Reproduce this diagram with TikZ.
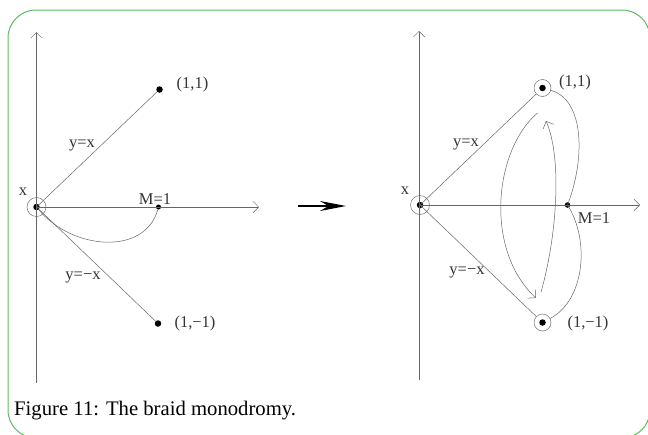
\documentclass[tikz,border=0pt]{standalone}
\usepackage{fontspec}
\setmainfont{Liberation Serif}
\usetikzlibrary{arrows.meta, positioning}
\definecolor{framegreen}{HTML}{5DBB63}
\tikzset{
  >={Straight Barb[length=2mm]},
  ax/.style={->, draw=black!60, line width=0.5pt},
  ray/.style={draw=black!60, line width=0.5pt},
  loopc/.style={draw=black!60, line width=0.5pt},
  dotpt/.style={circle, fill=black, inner sep=0pt, minimum size=6.5pt},
  ring/.style={circle, draw=black!55, line width=0.5pt, inner sep=0pt, minimum size=19pt},
  lbl/.style={font=\fontsize{16.5}{18}\selectfont, text=black!80, inner sep=0pt},
  caption/.style={font=\fontsize{20.7}{24}\selectfont, anchor=base west, inner sep=0pt},
  bigarrow/.style={-{Stealth[length=26pt, width=10pt]}, line width=1.8pt},
  frame/.style={draw=framegreen, line width=1pt, rounded corners=28pt},
}
\begin{document}
\begin{tikzpicture}[x=1pt, y=-1pt]
  \useasboundingbox (0,0) rectangle (648,434);
  \draw[frame] (8,10) rectangle (650,438);

  % left panel: before
  \coordinate (ytop) at (36.5,32);
  \coordinate (ybot) at (36.5,383);
  \coordinate (xend) at (259,207);
  \node[ring] (o) at (36.5,207) {};
  \node[dotpt] (od) at (o.center) {};
  \node[dotpt] (p) at (159.5,89.5) {};
  \node[dotpt, minimum size=5pt] (m) at (158.5,207) {};
  \node[dotpt] (q) at (158,323.5) {};
  \draw[ax] (ybot) -- (ytop);
  \draw[ax] (o.center) -- (xend);
  \draw[ray] (o.center) -- (p);
  \draw[ray] (o.center) -- (q);
  \draw[loopc] (od) .. controls (72,250) and (145,256) .. (m);
  \node[lbl] at (23,192) {x};
  \node[lbl] at (82,145) {y=x};
  \node[lbl] at (155,199) {M=1};
  \node[lbl] at (83,277) {y=−x};
  \node[lbl] at (192.5,85) {(1,1)};
  \node[lbl] at (195,323.5) {(1,−1)};

  % arrow between the panels
  \coordinate (arrs) at (298,206);
  \coordinate (arre) at (346,206);
  \draw[bigarrow] (arrs) -- (arre);

  % right panel: after
  \coordinate (ytop2) at (419,31);
  \coordinate (ybot2) at (419,380);
  \coordinate (xend2) at (640,205);
  \node[ring] (o2) at (420,205) {};
  \node[dotpt] (od2) at (o2.center) {};
  \node[ring, minimum size=17pt] (p2) at (542.5,88) {};
  \node[dotpt] at (p2.center) {};
  \node[dotpt, minimum size=5.5pt] (m2) at (567.5,205) {};
  \node[ring, minimum size=17pt] (q2) at (542.5,322.5) {};
  \node[dotpt] at (q2.center) {};
  \draw[ax] (ybot2) -- (ytop2);
  \draw[ax] (o2.center) -- (xend2);
  \draw[ray] (o2.center) -- (p2);
  \draw[ray] (o2.center) -- (q2);
  \draw[loopc] (p2) .. controls (585,100) and (585,160) .. (m2.center);
  \draw[loopc] (m2.center) .. controls (590,240) and (585,300) .. (q2);
  \coordinate (la) at (537.5,113);
  \coordinate (lb) at (536,298);
  \coordinate (ra) at (541,292);
  \coordinate (rb) at (546,121);
  \draw[loopc, ->] (la) .. controls (494,150) and (484,250) .. (lb);
  \draw[loopc, ->] (ra) .. controls (556,240) and (563,160) .. (rb);
  \node[lbl] at (405,191) {x};
  \node[lbl] at (466,144) {y=x};
  \node[lbl] at (594,218.5) {M=1};
  \node[lbl] at (467,272) {y=−x};
  \node[lbl] at (575,82.5) {(1,1)};
  \node[lbl] at (588,323.5) {(1,−1)};

  \node[caption] (cap) at (14,415) {Figure 11: The braid monodromy.};
\end{tikzpicture}
\end{document}
